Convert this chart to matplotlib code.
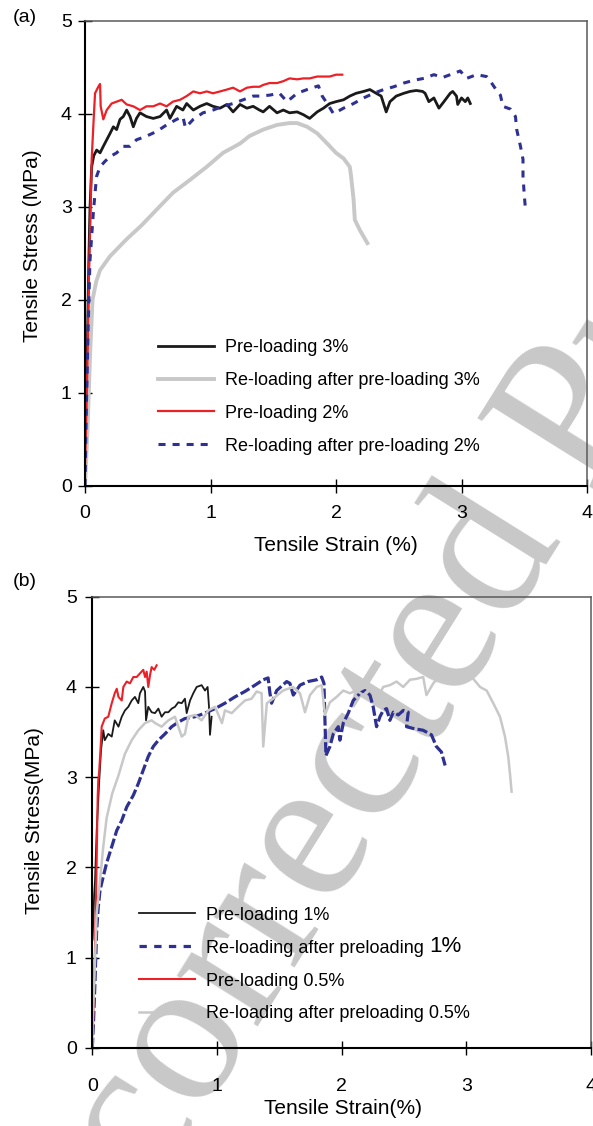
import matplotlib
matplotlib.use("Agg")
import matplotlib.pyplot as plt
from matplotlib.lines import Line2D

plt.rcParams['font.family'] = ['Liberation Sans', 'DejaVu Sans']

# ---------------- panel (a) data: strain (%) and stress (MPa) ----------------
a_pre3_strain = [0, 0.01, 0.02, 0.03, 0.04, 0.053, 0.07, 0.093, 0.12, 0.146, 0.173, 0.2, 0.226, 0.252,
                 0.279, 0.305, 0.332, 0.359, 0.385, 0.41, 0.438, 0.49, 0.544, 0.598, 0.65, 0.677, 0.73,
                 0.78, 0.81, 0.863, 0.916, 0.97, 1.02, 1.076, 1.13, 1.18, 1.235, 1.29, 1.34, 1.39, 1.42,
                 1.47, 1.53, 1.58, 1.63, 1.69, 1.74, 1.79, 1.85, 1.90, 1.95, 2.0, 2.06, 2.11, 2.16, 2.22,
                 2.27, 2.32, 2.36, 2.40, 2.43, 2.48, 2.54, 2.59, 2.64, 2.69, 2.71, 2.74, 2.78, 2.82, 2.86,
                 2.91, 2.93, 2.96, 2.97, 3.0, 3.03, 3.05, 3.07]
a_pre3_stress = [0, 0.8, 1.6, 2.4, 3.0, 3.43, 3.55, 3.61, 3.58, 3.65, 3.72, 3.79, 3.86, 3.83,
                 3.94, 3.97, 4.04, 3.97, 3.86, 3.95, 4.01, 3.97, 3.95, 3.97, 4.04, 3.95, 4.08,
                 4.04, 4.11, 4.04, 4.08, 4.11, 4.08, 4.06, 4.10, 4.02, 4.10, 4.06, 4.08, 4.04, 4.02,
                 4.08, 4.01, 4.04, 4.01, 4.02, 3.99, 3.95, 4.02, 4.06, 4.11, 4.13, 4.15, 4.19, 4.22, 4.24,
                 4.26, 4.22, 4.19, 4.02, 4.13, 4.19, 4.22, 4.24, 4.25, 4.24, 4.22, 4.13, 4.17, 4.06, 4.13,
                 4.22, 4.24, 4.19, 4.10, 4.17, 4.13, 4.17, 4.11]

a_re3_strain = [0, 0.02, 0.04, 0.06, 0.09, 0.12, 0.2, 0.33, 0.45, 0.571, 0.70, 0.837, 0.97, 1.10, 1.235,
                1.31, 1.42, 1.53, 1.63, 1.69, 1.77, 1.85, 1.93, 2.0, 2.06, 2.11, 2.12, 2.14, 2.15, 2.19, 2.25]
a_re3_stress = [0, 0.6, 1.4, 2.0, 2.2, 2.32, 2.47, 2.65, 2.8, 2.97, 3.15, 3.29, 3.43, 3.58, 3.68,
                3.76, 3.83, 3.88, 3.90, 3.90, 3.86, 3.79, 3.68, 3.58, 3.52, 3.43, 3.33, 3.08, 2.86, 2.75, 2.61]

a_pre2_strain = [0, 0.015, 0.03, 0.045, 0.053, 0.066, 0.08, 0.106, 0.12, 0.125, 0.146, 0.173, 0.212, 0.252,
                 0.292, 0.332, 0.385, 0.438, 0.49, 0.544, 0.598, 0.65, 0.70, 0.757, 0.81, 0.863, 0.916,
                 0.97, 1.02, 1.076, 1.13, 1.18, 1.235, 1.29, 1.34, 1.39, 1.42, 1.47, 1.53, 1.58, 1.63,
                 1.69, 1.74, 1.79, 1.85, 1.90, 1.95, 2.0, 2.05]
a_pre2_stress = [0.2, 1.0, 2.2, 3.0, 3.5, 3.86, 4.22, 4.29, 4.32, 4.08, 3.94, 4.04, 4.11, 4.13,
                 4.15, 4.10, 4.08, 4.04, 4.08, 4.08, 4.11, 4.08, 4.13, 4.15, 4.19, 4.24, 4.22,
                 4.24, 4.22, 4.24, 4.26, 4.28, 4.24, 4.28, 4.29, 4.29, 4.31, 4.33, 4.33, 4.35, 4.38,
                 4.37, 4.38, 4.38, 4.40, 4.40, 4.40, 4.42, 4.42]

a_re2_strain = [0, 0.01, 0.025, 0.035, 0.04, 0.066, 0.08, 0.093, 0.12, 0.16, 0.2, 0.252, 0.305, 0.359,
                0.41, 0.49, 0.571, 0.65, 0.73, 0.78, 0.80, 0.863, 0.94, 1.02, 1.10, 1.18, 1.26, 1.34,
                1.39, 1.47, 1.55, 1.61, 1.69, 1.77, 1.86, 1.89, 1.93, 1.98, 2.06, 2.14, 2.22, 2.30,
                2.38, 2.46, 2.54, 2.62, 2.70, 2.78, 2.85, 2.91, 2.99, 3.04, 3.12, 3.20, 3.23, 3.27,
                3.31, 3.33, 3.39, 3.43, 3.44, 3.47, 3.49, 3.49, 3.50, 3.51]
a_re2_stress = [0, 0.8, 1.7, 2.2, 2.43, 2.93, 3.15, 3.33, 3.43, 3.49, 3.54, 3.58, 3.65, 3.65,
                3.72, 3.76, 3.81, 3.88, 3.94, 3.97, 3.85, 3.94, 4.01, 4.04, 4.08, 4.11, 4.15, 4.19,
                4.19, 4.20, 4.22, 4.13, 4.22, 4.26, 4.30, 4.19, 4.11, 4.00, 4.06, 4.11, 4.17, 4.22,
                4.26, 4.29, 4.33, 4.36, 4.38, 4.42, 4.39, 4.42, 4.46, 4.38, 4.42, 4.40, 4.35, 4.27,
                4.20, 4.08, 4.05, 3.97, 3.83, 3.65, 3.51, 3.33, 3.13, 2.97]

# ---------------- panel (b) data ----------------
b_pre1_strain = [0.002, 0.005, 0.015, 0.022, 0.035, 0.056, 0.07, 0.088, 0.10, 0.128, 0.156, 0.18, 0.21,
                 0.236, 0.262, 0.289, 0.316, 0.342, 0.369, 0.382, 0.409, 0.423, 0.431, 0.449, 0.476,
                 0.503, 0.53, 0.556, 0.583, 0.61, 0.637, 0.663, 0.69, 0.717, 0.743, 0.757, 0.784, 0.81,
                 0.837, 0.877, 0.904, 0.925, 0.936, 0.944, 0.957]
b_pre1_stress = [1.2, 1.3, 1.7, 1.86, 2.4, 2.97, 3.30, 3.52, 3.41, 3.48, 3.45, 3.63, 3.56,
                 3.67, 3.74, 3.78, 3.85, 3.89, 3.82, 3.93, 4.0, 3.95, 3.63, 3.78, 3.72,
                 3.71, 3.76, 3.67, 3.72, 3.72, 3.76, 3.78, 3.83, 3.82, 3.87, 3.71, 3.85, 3.93,
                 4.0, 4.02, 3.96, 4.0, 3.78, 3.47, 3.67]

b_re1_strain = [0, 0.01, 0.022, 0.035, 0.048, 0.062, 0.088, 0.115, 0.156, 0.196, 0.236, 0.276, 0.329,
                0.369, 0.409, 0.449, 0.489, 0.53, 0.583, 0.637, 0.69, 0.743, 0.824, 0.904, 0.984, 1.064,
                1.144, 1.224, 1.305, 1.371, 1.41, 1.425, 1.438, 1.479, 1.559, 1.585, 1.612, 1.666, 1.73,
                1.80, 1.84, 1.858, 1.866, 1.874, 1.906, 1.933, 1.973, 1.986, 2.013, 2.053, 2.093, 2.147,
                2.187, 2.227, 2.253, 2.28, 2.307, 2.333, 2.36, 2.387, 2.414, 2.454, 2.494, 2.534, 2.52,
                2.574, 2.654, 2.72, 2.76, 2.80, 2.83]
b_re1_stress = [0, 0.3, 0.75, 1.31, 1.56, 1.75, 1.90, 2.05, 2.23, 2.41, 2.52, 2.67, 2.80,
                2.93, 3.08, 3.23, 3.34, 3.41, 3.48, 3.56, 3.61, 3.65, 3.67, 3.71, 3.76, 3.82,
                3.89, 3.95, 4.02, 4.08, 4.10, 3.93, 3.82, 3.96, 4.06, 4.04, 3.91, 4.02, 4.06,
                4.08, 4.11, 4.04, 3.63, 3.24, 3.34, 3.48, 3.56, 3.41, 3.60, 3.71, 3.85, 3.93,
                3.96, 3.91, 3.78, 3.56, 3.67, 3.74, 3.76, 3.63, 3.72, 3.69, 3.74, 3.72, 3.56,
                3.54, 3.52, 3.47, 3.34, 3.28, 3.13]

b_pre05_strain = [0.005, 0.008, 0.022, 0.035, 0.043, 0.048, 0.054, 0.07, 0.075, 0.10, 0.128, 0.156,
                  0.18, 0.196, 0.21, 0.236, 0.249, 0.276, 0.302, 0.329, 0.356, 0.382, 0.409, 0.423,
                  0.436, 0.449, 0.463, 0.476, 0.497, 0.516]
b_pre05_stress = [0.15, 0.38, 1.12, 2.05, 2.78, 2.97, 3.04, 3.41, 3.56, 3.65, 3.67, 3.82,
                  3.93, 3.98, 3.89, 3.85, 4.0, 4.06, 4.04, 4.11, 4.11, 4.15, 4.19, 4.11,
                  4.17, 4.0, 4.13, 4.22, 4.19, 4.24]

b_re05_strain = [0, 0.002, 0.02, 0.035, 0.062, 0.088, 0.115, 0.16, 0.21, 0.262, 0.316, 0.369, 0.423,
                 0.476, 0.503, 0.556, 0.61, 0.663, 0.717, 0.743, 0.77, 0.824, 0.877, 0.93, 0.984,
                 1.04, 1.064, 1.118, 1.17, 1.224, 1.278, 1.318, 1.358, 1.371, 1.40, 1.45, 1.53, 1.61,
                 1.666, 1.706, 1.746, 1.80, 1.84, 1.866, 1.906, 1.96, 2.013, 2.066, 2.12, 2.173, 2.227,
                 2.28, 2.333, 2.387, 2.44, 2.494, 2.548, 2.60, 2.654, 2.68, 2.735, 2.79, 2.84, 2.90,
                 2.95, 3.0, 3.05, 3.11, 3.163, 3.216, 3.27, 3.31, 3.336, 3.35, 3.363]
b_re05_stress = [0, 0.24, 0.9, 1.49, 1.86, 2.23, 2.55, 2.82, 3.02, 3.26, 3.41, 3.52, 3.60,
                 3.63, 3.60, 3.56, 3.63, 3.67, 3.45, 3.48, 3.67, 3.69, 3.63, 3.74, 3.78,
                 3.60, 3.74, 3.71, 3.78, 3.85, 3.87, 3.95, 3.93, 3.34, 3.82, 3.87, 3.96, 4.0,
                 3.93, 3.72, 3.91, 4.0, 4.02, 3.69, 3.83, 3.89, 3.96, 3.93, 3.96, 3.91, 3.98,
                 3.85, 4.0, 4.02, 4.06, 4.0, 4.08, 4.09, 4.11, 3.91, 4.04, 4.13, 4.13, 4.17,
                 4.19, 4.15, 4.10, 4.0, 3.96, 3.82, 3.67, 3.45, 3.23, 3.04, 2.84]

ticks = [0, 1, 2, 3, 4, 5]
tick_labels = ["0", "1", "2", "3", "4", "5"]

BLACK = "#1a1a1a"
GREY = "#c8c8c8"
RED = "#ec2027"
BLUE = "#2e3192"
DASH = (0, (2.3, 2.3))
DASH_TIGHT = (0, (3.2, 1.0))

W, H = 593, 1126
fig = plt.figure(figsize=(W / 100, H / 100), dpi=100)

# watermark behind both panels
fig.text(384 / W, 1 - 730 / H, "Uncorrected Proof", rotation=58, rotation_mode="anchor",
         ha="center", va="center", fontsize=150, family="Liberation Serif",
         color="#c8c8c8", zorder=-5)


def style_axes(ax, ypad, xpad):
    ax.set_xlim(0, 4)
    ax.set_ylim(0, 5)
    ax.set_xticks(ticks[:5], tick_labels[:5])
    ax.set_yticks(ticks, tick_labels)
    ax.patch.set_alpha(0)
    for side in ("left", "bottom"):
        ax.spines[side].set_linewidth(1.5)
        ax.spines[side].set_color("black")
    for side in ("top", "right"):
        ax.spines[side].set_linewidth(1.1)
        ax.spines[side].set_color("#5a5a5a")
    ax.tick_params(direction="inout", length=9.5, width=1.0, labelsize=14, color="black")
    ax.tick_params(axis="y", pad=ypad)
    ax.tick_params(axis="x", pad=xpad)


LEGEND_KW = dict(loc="upper left", frameon=False, fontsize=13, handlelength=3.1,
                 handletextpad=0.6, labelspacing=0.88, borderpad=0, borderaxespad=0)

# ---------------- panel (a) ----------------
ax1 = fig.add_axes([85 / W, 1 - 486 / H, 502 / W, 465.3 / H])
style_axes(ax1, 4.7, 9)
l1, = ax1.plot(a_pre3_strain, a_pre3_stress, color=BLACK, lw=2.0)
l2, = ax1.plot(a_re3_strain, a_re3_stress, color=GREY, lw=2.8)
l3, = ax1.plot(a_pre2_strain, a_pre2_stress, color=RED, lw=1.6)
l4, = ax1.plot(a_re2_strain, a_re2_stress, color=BLUE, lw=2.2, linestyle=DASH)
ax1.set_xlabel("Tensile Strain (%)", fontsize=15)
ax1.set_ylabel("Tensile Stress (MPa)", fontsize=15)
ax1.xaxis.set_label_coords(0.5, -0.127)
ax1.xaxis.label.set_va("center")
ax1.yaxis.set_label_coords(-0.1036, 0.516)
ax1.yaxis.label.set_va("center")
ax1.legend([l1, l2, l3, l4],
           ["Pre-loading 3%", "Re-loading after pre-loading 3%", "Pre-loading 2%",
            "Re-loading after pre-loading 2%"],
           bbox_to_anchor=(0.145, 0.316), **LEGEND_KW)
fig.text(13 / W, 1 - 18 / H, "(a)", fontsize=14, ha="left", va="center")

# ---------------- panel (b) ----------------
ax2 = fig.add_axes([92.3 / W, 1 - 1048 / H, 498.7 / W, 451.3 / H])
style_axes(ax2, 6.5, 16.5)
m1, = ax2.plot(b_pre1_strain, b_pre1_stress, color=BLACK, lw=1.3)
m2, = ax2.plot(b_re1_strain, b_re1_stress, color=BLUE, lw=2.3, linestyle=DASH_TIGHT)
m3, = ax2.plot(b_pre05_strain, b_pre05_stress, color=RED, lw=1.5)
m4, = ax2.plot(b_re05_strain, b_re05_stress, color=GREY, lw=1.8)
blue_handle = Line2D([], [], color=BLUE, lw=2.3, linestyle=DASH)
ax2.set_xlabel("Tensile Strain(%)", fontsize=15)
ax2.set_ylabel("Tensile Stress(MPa)", fontsize=15)
ax2.xaxis.set_label_coords(0.503, -0.135)
ax2.xaxis.label.set_va("center")
ax2.yaxis.set_label_coords(-0.115, 0.503)
ax2.yaxis.label.set_va("center")
leg2 = ax2.legend([m1, blue_handle, m3, m4],
                  ["Pre-loading 1%", "Re-loading after preloading ", "Pre-loading 0.5%",
                   "Re-loading after preloading 0.5%"],
                  bbox_to_anchor=(0.094, 0.313), **LEGEND_KW)
ax2.annotate("1%", xy=(1, 0), xycoords=leg2.get_texts()[1], fontsize=16,
             ha="left", va="bottom", zorder=10)
fig.text(13 / W, 1 - 581 / H, "(b)", fontsize=14, ha="left", va="center")

fig.savefig("out.png", dpi=100)
